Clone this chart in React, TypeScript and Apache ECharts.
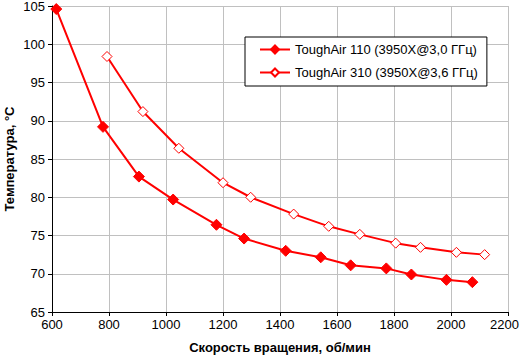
import React, { useEffect, useRef } from "react";
import * as echarts from "echarts";

const seriesNames = ["ToughAir 110 (3950X@3,0 ГГц)", "ToughAir 310 (3950X@3,6 ГГц)"];
const rpm110 = [615, 779, 905, 1025, 1177, 1274, 1420, 1543, 1648, 1773, 1861, 1984, 2075];
const temp110 = [104.6, 89.2, 82.7, 79.7, 76.4, 74.6, 73.0, 72.15, 71.1, 70.7, 69.9, 69.2, 68.9];
const rpm310 = [793, 919, 1045, 1200, 1297, 1448, 1571, 1680, 1806, 1893, 2019, 2118];
const temp310 = [98.4, 91.2, 86.4, 81.9, 80.0, 77.8, 76.2, 75.15, 74.0, 73.45, 72.8, 72.5];
const xName = "Скорость вращения, об/мин";
const yName = "Температура, °C";
const xMax = 2200;

export default function App() {
  const ref = useRef<HTMLDivElement>(null);
  useEffect(() => {
    const chart = echarts.init(ref.current!, null, { renderer: "svg" });
    const font = "Liberation Sans, Arial, sans-serif";
    chart.setOption({
      animation: false,
      backgroundColor: "#ffffff",
      textStyle: { fontFamily: font },
      grid: { left: 52, top: 6, right: 12, bottom: 43, containLabel: false, outerBoundsMode: "none" },
      legend: {
        orient: "vertical",
        left: 245,
        top: 37,
        backgroundColor: "#ffffff",
        borderColor: "#000000",
        borderWidth: 1,
        borderRadius: 0,
        padding: [6, 9, 7, 14],
        itemGap: 10,
        itemWidth: 30,
        itemHeight: 10,
        textStyle: { fontFamily: font, fontSize: 13, color: "#000" },
        data: seriesNames,
      },
      xAxis: {
        type: "value",
        min: 600,
        max: xMax,
        interval: 200,
        name: xName,
        nameLocation: "middle",
        nameGap: 29,
        nameMoveOverlap: false,
        nameTextStyle: { fontFamily: font, fontSize: 13, fontWeight: "bold", color: "#000" },
        axisLine: { lineStyle: { color: "#000", width: 1 } },
        axisTick: { show: true, length: 4, lineStyle: { color: "#000" } },
        axisLabel: {
          fontFamily: font,
          fontSize: 13,
          color: "#000",
          margin: 6,
          formatter: (v: number) => (v === xMax ? "{e|" + v + "}" : String(v)),
          rich: { e: { fontFamily: font, fontSize: 13, color: "#000", padding: [0, 7, 0, 0] } },
        },
        splitLine: { show: true, lineStyle: { color: "#c0c0c0", width: 1 } },
      },
      yAxis: {
        type: "value",
        min: 65,
        max: 105,
        interval: 5,
        name: yName,
        nameLocation: "middle",
        nameGap: 36,
        nameMoveOverlap: false,
        nameTextStyle: { fontFamily: font, fontSize: 13, fontWeight: "bold", color: "#000" },
        axisLine: { show: true, lineStyle: { color: "#000", width: 1 } },
        axisTick: { show: true, length: 4, lineStyle: { color: "#000" } },
        axisLabel: { fontFamily: font, fontSize: 13, color: "#000", margin: 7, formatter: (v: number) => String(v) },
        splitLine: { show: true, lineStyle: { color: "#c0c0c0", width: 1 } },
      },
      series: [
        {
          name: seriesNames[0],
          type: "line",
          data: rpm110.map((x, i) => [x, temp110[i]]),
          symbol: "diamond",
          symbolSize: 11,
          lineStyle: { color: "#ff0000", width: 2 },
          itemStyle: { color: "#ff0000", borderColor: "#ff0000", borderWidth: 1 },
        },
        {
          name: seriesNames[1],
          type: "line",
          data: rpm310.map((x, i) => [x, temp310[i]]),
          symbol: "diamond",
          symbolSize: 10,
          lineStyle: { color: "#ff0000", width: 2 },
          itemStyle: { color: "#ffffff", borderColor: "#ff0000", borderWidth: 1 },
        },
      ],
    });
    return () => chart.dispose();
  }, []);
  return (
    <div
      ref={ref}
      style={{ position: "fixed", left: 0, top: 0, width: 520, height: 355 }}
    />
  );
}
